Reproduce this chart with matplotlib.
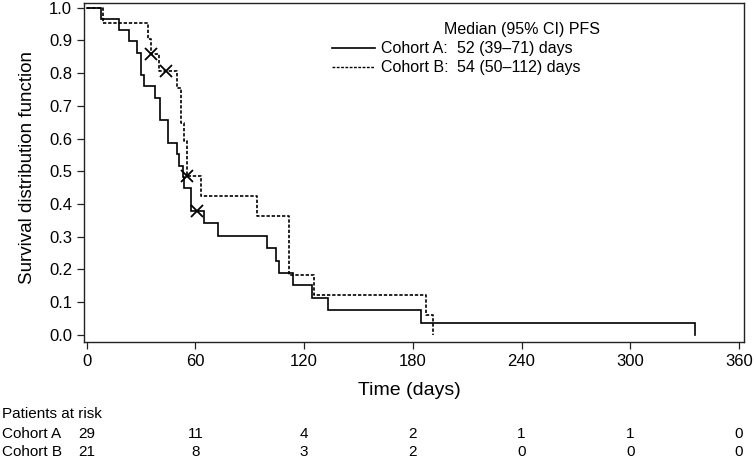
import numpy as np
import matplotlib
matplotlib.use("Agg")
import matplotlib.pyplot as plt
from matplotlib import transforms
from matplotlib.lines import Line2D

plt.rcParams['font.family'] = ['Liberation Sans', 'DejaVu Sans']

# ---- data ----
a_times = [0, 8, 18, 23.5, 28, 30, 31.5, 37.5, 40.5, 45, 50, 51, 53, 53.7, 57.5,
           64.5, 72.5, 99.5, 104.5, 106, 114, 124.5, 133, 184.5]
a_surv = [1.0, 0.966, 0.931, 0.897, 0.862, 0.793, 0.759, 0.724, 0.655, 0.586, 0.552,
          0.517, 0.483, 0.448, 0.379, 0.341, 0.303, 0.265, 0.227, 0.189, 0.152,
          0.114, 0.076, 0.038]
a_end = 336
a_censor = [60.8]

b_times = [0, 9, 34, 35.3, 40, 50, 52, 53.7, 55.6, 63.3, 94, 111.5, 125.3, 187.5, 191]
b_surv = [1.0, 0.952, 0.905, 0.857, 0.807, 0.753, 0.646, 0.592, 0.485, 0.424, 0.364,
          0.182, 0.121, 0.061, 0.0]
b_censor = [35.3, 44.0, 55.6]

risk_times = [0, 60, 120, 180, 240, 300, 360]
risk_a = [29, 11, 4, 2, 1, 1, 0]
risk_b = [21, 8, 3, 2, 0, 0, 0]

x_ticks = [0, 60, 120, 180, 240, 300, 360]
y_ticks = [0.0, 0.1, 0.2, 0.3, 0.4, 0.5, 0.6, 0.7, 0.8, 0.9, 1.0]

legend_title = "Median (95% CI) PFS"
legend_names = ["Cohort A:", "Cohort B:"]
legend_values = ["52 (39\u201371) days", "54 (50\u2013112) days"]

# ---- figure ----
W, H = 755, 457
fig = plt.figure(figsize=(W / 100, H / 100), dpi=100)
fig.patch.set_facecolor('white')

def fx(px):
    return px / W

def fy(py):
    return 1 - py / H

left, right, top, bottom = 84, 744, 2.7, 342
ax = fig.add_axes([fx(left), fy(bottom), fx(right) - fx(left), fy(top) - fy(bottom)])

lw = 1.2
dash = (0, (2.0, 1.1))

def step_value(times, surv, t):
    i = np.searchsorted(np.asarray(times), t, side='right') - 1
    return np.asarray(surv)[i]

ax.step(np.r_[a_times, a_end, a_end], np.r_[a_surv, a_surv[-1], 0.0], where='post',
        color='black', lw=lw, solid_joinstyle='miter')
ax.step(b_times, b_surv, where='post', color='black', lw=lw, linestyle=dash)

ax.plot(a_censor, [step_value(a_times, a_surv, t) for t in a_censor], 'x',
        color='black', ms=8, mew=1.3)
ax.plot(b_censor, [step_value(b_times, b_surv, t) for t in b_censor], 'x',
        color='black', ms=8, mew=1.3)

ax.set_xlim(-1.5, 362.8)
ax.set_ylim(-0.0214, 1.0147)
ax.set_xticks(x_ticks)
ax.set_yticks(y_ticks)
ax.set_yticklabels([f"{v:.1f}" for v in y_ticks])
ax.tick_params(direction='out', length=5, width=0.9, labelsize=12, pad=3.5, color='#222222')
for s in ax.spines.values():
    s.set_linewidth(1.0)
    s.set_color('#222222')

# axis labels
fig.text(fx(28), fy(167.5), "Survival distribution function", rotation=90,
         ha='center', va='center', fontsize=13.5)
fig.text(fx(409.5), fy(395), "Time (days)", ha='center', va='baseline', fontsize=14)

# legend block
fig.text(fx(444), fy(34), legend_title, ha='left', va='baseline', fontsize=11.5)
row_base = [53, 72]
row_line = [48, 67]
styles = ['-', dash]
for name, val, yb, yl, st in zip(legend_names, legend_values, row_base, row_line, styles):
    fig.text(fx(381), fy(yb), name, ha='left', va='baseline', fontsize=11.5)
    fig.text(fx(457), fy(yb), val, ha='left', va='baseline', fontsize=11.5)
    fig.add_artist(Line2D([fx(332), fx(375)], [fy(yl), fy(yl)], color='black',
                          lw=1.2 if st == '-' else 1.0, linestyle=st))

# risk table
fig.text(fx(2), fy(418), "Patients at risk", ha='left', va='baseline', fontsize=11)
trans = transforms.blended_transform_factory(ax.transData, fig.transFigure)
for label, counts, yb in [("Cohort A", risk_a, 438), ("Cohort B", risk_b, 455.5)]:
    fig.text(fx(2), fy(yb), label, ha='left', va='baseline', fontsize=11)
    for t, c in zip(risk_times, counts):
        ax.text(t, fy(yb), str(c), transform=trans, ha='center', va='baseline',
                fontsize=11, clip_on=False)

fig.savefig("out.png", dpi=100, facecolor='white')
